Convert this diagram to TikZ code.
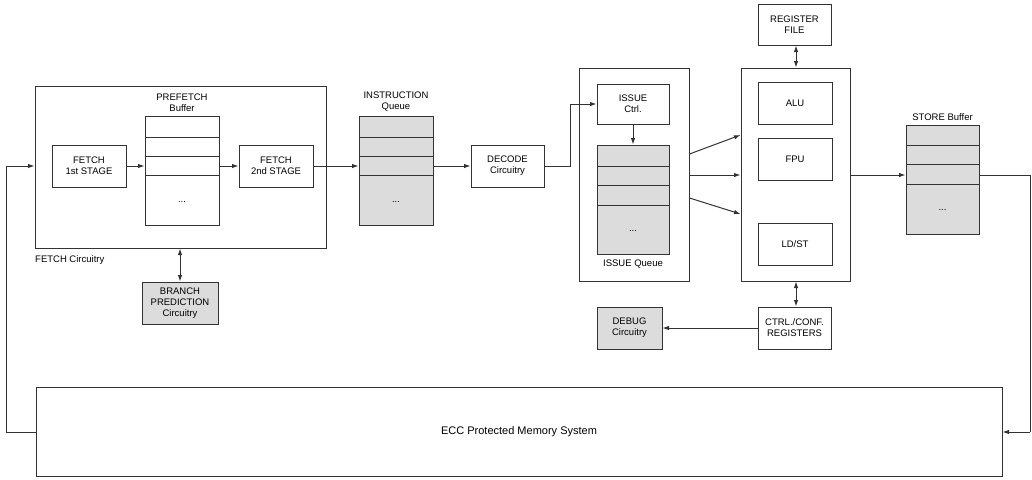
\documentclass[tikz,border=0pt]{standalone}
\usepackage{fontspec}
\setmainfont{Liberation Sans}
\usetikzlibrary{arrows.meta,calc}
\definecolor{linegray}{HTML}{333333}
\definecolor{boxfill}{HTML}{DCDCDC}
\tikzset{
  blk/.style={draw=linegray, line width=1pt, fill=white, align=center,
    inner sep=0pt, font=\fontsize{9.5}{11}\selectfont},
  shade/.style={blk, fill=boxfill},
  lbl/.style={align=center, inner sep=0pt, font=\fontsize{9.5}{11}\selectfont},
  divider/.style={draw=linegray, line width=1pt},
  tip/.tip={Latex[length=6.5pt,width=4.5pt]},
  link/.style={draw=linegray, line width=1pt, -tip},
  twoway/.style={draw=linegray, line width=1pt, tip-tip},
  wire/.style={draw=linegray, line width=1pt}
}
\begin{document}
\begin{tikzpicture}[x=1pt,y=-1pt]
\useasboundingbox (0,0) rectangle (1032,479);

% ---- fetch stage ----
\node[blk, minimum width=291pt, minimum height=162pt] (fetchc) at (180.5,167) {};
\node[lbl, anchor=west] (fetchlbl) at (35,260) {FETCH Circuitry};
\node[blk, minimum width=74pt, minimum height=42pt] (f1) at (89,166) {FETCH\\1st STAGE};
\node[blk, minimum width=74pt, minimum height=109pt] (pref) at (182,170.5) {};
\draw[divider] (145,137) -- (219,137) (145,156) -- (219,156) (145,175) -- (219,175);
\node[lbl] (prefdots) at (182,202) {...};
\node[lbl] (preflbl) at (182,102.5) {PREFETCH\\Buffer};
\node[blk, minimum width=74pt, minimum height=42pt] (f2) at (276,166) {FETCH\\2nd STAGE};
\node[shade, minimum width=76pt, minimum height=42pt] (bp) at (180,303) {BRANCH\\PREDICTION\\Circuitry};

% ---- instruction queue and decode ----
\node[shade, minimum width=74pt, minimum height=109pt] (iq) at (396,170.5) {};
\draw[divider] (359,137) -- (433,137) (359,156) -- (433,156) (359,175) -- (433,175);
\node[lbl] (iqdots) at (396,202) {...};
\node[lbl] (iqlbl) at (396,101.5) {INSTRUCTION\\Queue};
\node[blk, minimum width=73pt, minimum height=42pt] (dec) at (507.5,166) {DECODE\\Circuitry};

% ---- issue ----
\node[blk, minimum width=110pt, minimum height=213pt] (issueo) at (634,174.5) {};
\node[blk, minimum width=72pt, minimum height=40pt] (ictrl) at (633,104) {ISSUE\\Ctrl.};
\node[shade, minimum width=72pt, minimum height=109pt] (isq) at (633,199.5) {};
\draw[divider] (597,166) -- (669,166) (597,185) -- (669,185) (597,205) -- (669,205);
\node[lbl] (isqdots) at (633,231) {...};
\node[lbl] (isqlbl) at (633,264) {ISSUE Queue};

% ---- execution units ----
\node[blk, minimum width=109pt, minimum height=213pt] (exo) at (795.5,174.5) {};
\node[blk, minimum width=74pt, minimum height=42pt] (alu) at (795,103) {ALU};
\node[blk, minimum width=74pt, minimum height=42pt] (fpu) at (795,159) {FPU};
\node[blk, minimum width=74pt, minimum height=42pt] (ldst) at (795,244) {LD/ST};
\node[blk, minimum width=73pt, minimum height=41pt] (rf) at (794.5,24.5) {REGISTER\\FILE};
\node[blk, minimum width=73pt, minimum height=42pt] (ctrl) at (794.5,328) {CTRL./CONF.\\REGISTERS};
\node[shade, minimum width=65pt, minimum height=42pt] (dbg) at (629.5,328) {DEBUG\\Circuitry};

% ---- store buffer ----
\node[shade, minimum width=73pt, minimum height=109pt] (sb) at (942.5,179.5) {};
\draw[divider] (906,145) -- (979,145) (906,164) -- (979,164) (906,184) -- (979,184);
\node[lbl] (sbdots) at (942.5,210) {...};
\node[lbl] (sblbl) at (942.5,117) {STORE Buffer};

% ---- memory ----
\node[blk, minimum width=966pt, minimum height=89pt, font=\fontsize{11}{13}\selectfont] (mem) at (519,431.5) {ECC Protected Memory System};

% ---- connectors ----
\coordinate (fbL) at (6,432);
\coordinate (fbT) at (6,166);
\draw[wire] (mem.west |- fbL) -- (fbL) -- (fbT);
\draw[link] (fbT) -- (fetchc.west |- fbT);
\draw[link] (f1.east) -- (pref.west |- f1.east);
\draw[link] (pref.east |- f2.west) -- (f2.west);
\draw[link] (f2.east) -- (iq.west |- f2.east);
\draw[twoway] (fetchc.south -| bp.north) -- (bp.north);
\draw[link] (iq.east |- dec.west) -- (dec.west);
\coordinate (dk) at (570,166);
\draw[link] (dec.east) -- (dk) |- (ictrl.west);
\draw[link] (ictrl.south) -- (isq.north);
\draw[link] (issueo.east |- 0,154) -- (exo.west |- 0,135);
\draw[link] (issueo.east |- 0,175) -- (exo.west |- 0,175);
\draw[link] (issueo.east |- 0,198) -- (exo.west |- 0,214);
\draw[twoway] (rf.south -| 796,0) -- (exo.north -| 796,0);
\draw[twoway] (exo.south -| 796,0) -- (ctrl.north -| 796,0);
\draw[link] (ctrl.west) -- (dbg.east);
\draw[link] (exo.east |- 0,175) -- (sb.west |- 0,175);
\coordinate (stR) at (1030,175);
\coordinate (stB) at (1030,432);
\draw[wire] (sb.east |- stR) -- (stR) -- (stB);
\draw[link] (stB) -- (mem.east |- stB);
\end{tikzpicture}
\end{document}
